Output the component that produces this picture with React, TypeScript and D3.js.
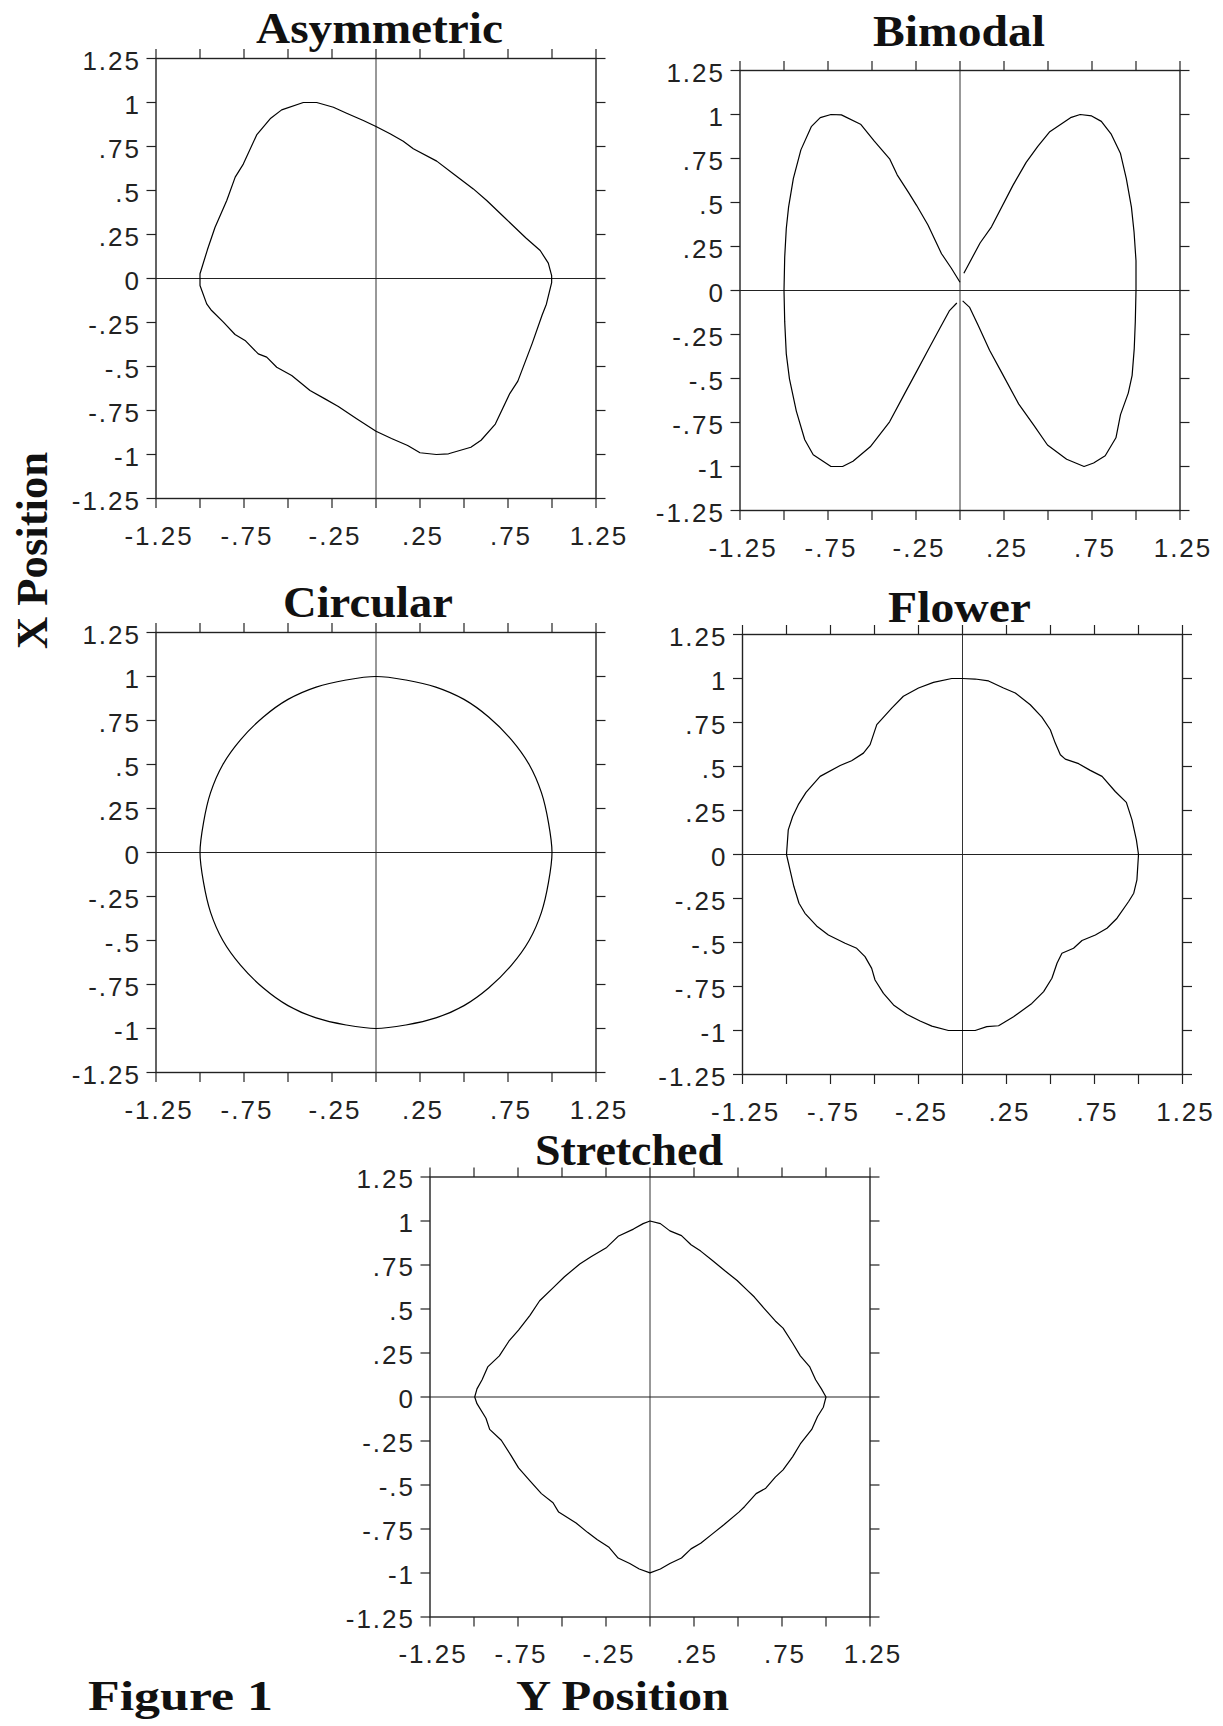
import React from 'react';
import * as d3 from 'd3';

// ---------- data ----------
// Horizontal axis = "Y Position", vertical axis = "X Position"
const tickValues = [-1.25, -1, -0.75, -0.5, -0.25, 0, 0.25, 0.5, 0.75, 1, 1.25];
const yTickLabels = ['-1.25', '-1', '-.75', '-.5', '-.25', '0', '.25', '.5', '.75', '1', '1.25'];
const xLabelValues = [-1.25, -0.75, -0.25, 0.25, 0.75, 1.25];
const xTickLabels = ['-1.25', '-.75', '-.25', '.25', '.75', '1.25'];

const panelTitles = ['Asymmetric', 'Bimodal', 'Circular', 'Flower', 'Stretched'];

const asymH = [-1.0, -0.958, -0.915, -0.848, -0.8, -0.754, -0.678, -0.598, -0.536, -0.413, -0.337, -0.242, -0.167, -0.072, 0, 0.08, 0.155, 0.212, 0.345, 0.439, 0.553, 0.629, 0.736, 0.852, 0.933, 0.979, 0.998, 0.998, 0.968, 0.944, 0.887, 0.806, 0.76, 0.678, 0.597, 0.539, 0.412, 0.343, 0.25, 0.18, 0.088, 0, -0.11, -0.214, -0.29, -0.375, -0.432, -0.479, -0.564, -0.621, -0.669, -0.744, -0.801, -0.867, -0.934, -0.962, -1.0];
const asymV = [0.027, 0.163, 0.29, 0.443, 0.576, 0.65, 0.816, 0.911, 0.958, 1.0, 1.0, 0.973, 0.939, 0.898, 0.864, 0.822, 0.78, 0.737, 0.667, 0.595, 0.509, 0.443, 0.341, 0.23, 0.159, 0.087, 0.016, -0.024, -0.146, -0.207, -0.37, -0.583, -0.654, -0.827, -0.919, -0.959, -0.996, -1.0, -0.99, -0.949, -0.909, -0.868, -0.797, -0.727, -0.684, -0.636, -0.589, -0.551, -0.504, -0.447, -0.428, -0.352, -0.318, -0.248, -0.182, -0.144, -0.04];

const bimLeftH = [0, -0.05, -0.105, -0.182, -0.247, -0.291, -0.357, -0.4, -0.488, -0.565, -0.674, -0.733, -0.794, -0.845, -0.904, -0.947, -0.974, -0.987, -0.996, -1.0, -0.996, -0.987, -0.969, -0.93, -0.882, -0.834, -0.733, -0.667, -0.608, -0.51, -0.4, -0.313, -0.247, -0.182, -0.116, -0.061, -0.018];
const bimLeftV = [0.047, 0.128, 0.209, 0.372, 0.484, 0.555, 0.657, 0.748, 0.85, 0.945, 0.998, 1.0, 0.982, 0.931, 0.799, 0.636, 0.474, 0.352, 0.189, 0, -0.177, -0.36, -0.502, -0.685, -0.848, -0.933, -1.0, -1.0, -0.97, -0.888, -0.746, -0.583, -0.461, -0.339, -0.217, -0.116, -0.071];
const bimRightH = [0.022, 0.114, 0.179, 0.3, 0.376, 0.442, 0.508, 0.628, 0.683, 0.748, 0.803, 0.858, 0.912, 0.945, 0.974, 0.989, 1.0, 1.0, 0.996, 0.99, 0.978, 0.956, 0.912, 0.886, 0.825, 0.759, 0.705, 0.606, 0.497, 0.42, 0.333, 0.234, 0.168, 0.103, 0.055, 0.015];
const bimRightV = [0.098, 0.27, 0.362, 0.596, 0.728, 0.819, 0.9, 0.982, 1.0, 0.992, 0.961, 0.89, 0.778, 0.636, 0.474, 0.331, 0.169, 0, -0.177, -0.33, -0.482, -0.583, -0.705, -0.837, -0.939, -0.98, -1.0, -0.959, -0.878, -0.766, -0.644, -0.461, -0.339, -0.197, -0.096, -0.059];

const circH = [0, 0.17, 0.34, 0.5, 0.64, 0.77, 0.87, 0.94, 0.98, 1, 0.98, 0.94, 0.87, 0.77, 0.64, 0.5, 0.34, 0.17, 0, -0.17, -0.34, -0.5, -0.64, -0.77, -0.87, -0.94, -0.98, -1, -0.98, -0.94, -0.87, -0.77, -0.64, -0.5, -0.34, -0.17];
const circV = [1, 0.98, 0.94, 0.87, 0.77, 0.64, 0.5, 0.34, 0.17, 0, -0.17, -0.34, -0.5, -0.64, -0.77, -0.87, -0.94, -0.98, -1, -0.98, -0.94, -0.87, -0.77, -0.64, -0.5, -0.34, -0.17, 0, 0.17, 0.34, 0.5, 0.64, 0.77, 0.87, 0.94, 0.98];

const flowerH = [0, 0.072, 0.148, 0.233, 0.3, 0.385, 0.451, 0.499, 0.527, 0.556, 0.584, 0.66, 0.726, 0.793, 0.868, 0.931, 0.963, 0.988, 1.0, 0.991, 0.973, 0.944, 0.878, 0.821, 0.755, 0.679, 0.631, 0.565, 0.537, 0.508, 0.461, 0.394, 0.29, 0.205, 0.138, 0.072, 0, -0.08, -0.174, -0.241, -0.317, -0.392, -0.449, -0.497, -0.516, -0.554, -0.601, -0.667, -0.762, -0.829, -0.895, -0.929, -0.958, -0.98, -1.0, -0.99, -0.965, -0.933, -0.889, -0.809, -0.695, -0.63, -0.563, -0.525, -0.487, -0.402, -0.336, -0.25, -0.165, -0.061];
const flowerV = [1.0, 0.997, 0.986, 0.946, 0.918, 0.851, 0.781, 0.709, 0.633, 0.567, 0.542, 0.516, 0.478, 0.444, 0.358, 0.296, 0.197, 0.083, 0, -0.144, -0.22, -0.267, -0.362, -0.419, -0.457, -0.489, -0.533, -0.561, -0.618, -0.703, -0.779, -0.846, -0.922, -0.973, -0.978, -1.0, -1.0, -1.0, -0.975, -0.946, -0.908, -0.855, -0.789, -0.713, -0.647, -0.58, -0.533, -0.504, -0.457, -0.406, -0.334, -0.277, -0.182, -0.087, 0, 0.14, 0.216, 0.283, 0.353, 0.444, 0.506, 0.533, 0.576, 0.624, 0.738, 0.832, 0.899, 0.946, 0.978, 1.0];

const strH = [0, 0.059, 0.113, 0.179, 0.233, 0.288, 0.353, 0.429, 0.495, 0.549, 0.593, 0.647, 0.712, 0.756, 0.81, 0.854, 0.908, 0.941, 0.974, 1.0, 0.985, 0.952, 0.919, 0.854, 0.81, 0.756, 0.712, 0.658, 0.603, 0.538, 0.505, 0.418, 0.353, 0.288, 0.233, 0.179, 0.113, 0.059, 0, -0.061, -0.115, -0.181, -0.235, -0.301, -0.355, -0.42, -0.519, -0.551, -0.617, -0.682, -0.747, -0.791, -0.845, -0.911, -0.932, -0.983, -0.996, -0.983, -0.954, -0.922, -0.856, -0.802, -0.747, -0.682, -0.627, -0.551, -0.486, -0.399, -0.333, -0.246, -0.181, -0.094, -0.039];
const strV = [1.0, 0.985, 0.944, 0.917, 0.865, 0.829, 0.777, 0.714, 0.662, 0.61, 0.568, 0.505, 0.432, 0.391, 0.307, 0.234, 0.171, 0.098, 0.046, 0, -0.058, -0.111, -0.184, -0.267, -0.34, -0.414, -0.455, -0.518, -0.549, -0.622, -0.654, -0.727, -0.779, -0.831, -0.863, -0.915, -0.946, -0.977, -0.999, -0.977, -0.946, -0.915, -0.852, -0.81, -0.769, -0.716, -0.654, -0.601, -0.549, -0.476, -0.403, -0.33, -0.246, -0.184, -0.121, -0.038, 0, 0.046, 0.098, 0.171, 0.234, 0.317, 0.38, 0.464, 0.547, 0.62, 0.683, 0.756, 0.798, 0.85, 0.913, 0.954, 0.985];

// ---------- layout ----------
const SIZE = 440;
const TICK = 9.5;
const layout = [
  { left: 156, top: 58.5, titleX: 256, titleLen: 247, titleY: 43 },
  { left: 740, top: 70.5, titleX: 873, titleLen: 172, titleY: 46 },
  { left: 156, top: 632.5, titleX: 283, titleLen: 170, titleY: 617 },
  { left: 742.5, top: 634.5, titleX: 888, titleLen: 143, titleY: 622 },
  { left: 430, top: 1177, titleX: 535, titleLen: 188, titleY: 1165 },
];

type Series = { h: number[]; v: number[]; closed: boolean; smooth?: boolean };
const panelSeries: Series[][] = [
  [{ h: asymH, v: asymV, closed: true }],
  [
    { h: bimLeftH, v: bimLeftV, closed: false },
    { h: bimRightH, v: bimRightV, closed: false },
  ],
  [{ h: circH, v: circV, closed: true, smooth: true }],
  [{ h: flowerH, v: flowerV, closed: true }],
  [{ h: strH, v: strV, closed: true }],
];

const serifFont = '"Liberation Serif", "Times New Roman", serif';
const sansFont = '"Liberation Sans", Arial, sans-serif';
const LABEL_SIZE = 26;
const LABEL_SPACING = 2;

function Panel({ idx }: { idx: number }) {
  const L = layout[idx];
  const x = d3.scaleLinear().domain([-1.25, 1.25]).range([0, SIZE]);
  const y = d3.scaleLinear().domain([-1.25, 1.25]).range([SIZE, 0]);
  const series = panelSeries[idx];
  return (
    <g>
      <text
        x={L.titleX}
        y={L.titleY}
        fontFamily={serifFont}
        fontWeight="bold"
        fontSize={44}
        textLength={L.titleLen}
        lengthAdjust="spacingAndGlyphs"
        fill="#111"
      >
        {panelTitles[idx]}
      </text>
      <g transform={`translate(${L.left},${L.top})`}>
        {/* centre lines */}
        <line x1={x(0)} x2={x(0)} y1={0} y2={SIZE} stroke="#333" strokeWidth={1} />
        <line x1={0} x2={SIZE} y1={y(0)} y2={y(0)} stroke="#222" strokeWidth={1.1} />
        {/* frame */}
        <rect x={0} y={0} width={SIZE} height={SIZE} fill="none" stroke="#222" strokeWidth={1.4} />
        {/* ticks */}
        {tickValues.map((t, i) => (
          <g key={'t' + i} stroke="#222" strokeWidth={1.2}>
            <line x1={-TICK} x2={0} y1={y(t)} y2={y(t)} />
            <line x1={SIZE} x2={SIZE + TICK} y1={y(t)} y2={y(t)} />
            <line x1={x(t)} x2={x(t)} y1={-TICK} y2={0} />
            <line x1={x(t)} x2={x(t)} y1={SIZE} y2={SIZE + TICK} />
          </g>
        ))}
        {/* y labels */}
        {tickValues.map((t, i) => (
          <text
            key={'yl' + i}
            x={-15}
            y={y(t) + 11}
            textAnchor="end"
            fontFamily={sansFont}
            fontSize={LABEL_SIZE}
            letterSpacing={LABEL_SPACING}
            fill="#222"
          >
            {yTickLabels[i]}
          </text>
        ))}
        {/* x labels */}
        {xLabelValues.map((t, i) => (
          <text
            key={'xl' + i}
            x={x(t) + 3}
            y={SIZE + 46}
            textAnchor="middle"
            fontFamily={sansFont}
            fontSize={LABEL_SIZE}
            letterSpacing={LABEL_SPACING}
            fill="#222"
          >
            {xTickLabels[i]}
          </text>
        ))}
        {/* curves */}
        {series.map((s, k) => {
          const gen = d3
            .line<number>()
            .x((_, i) => x(s.h[i]))
            .y((_, i) => y(s.v[i]))
            .curve(
              s.closed
                ? s.smooth
                  ? d3.curveCatmullRomClosed
                  : d3.curveLinearClosed
                : d3.curveLinear
            );
          return (
            <path
              key={'c' + k}
              d={gen(s.h) || ''}
              fill="none"
              stroke="#000"
              strokeWidth={1.2}
              strokeLinejoin="round"
            />
          );
        })}
      </g>
    </g>
  );
}

export default function App() {
  return (
    <svg
      width={1223}
      height={1726}
      style={{ position: 'absolute', left: 0, top: 0, background: '#fff' }}
    >
      <rect x={0} y={0} width={1223} height={1726} fill="#fff" />
      {panelTitles.map((_, i) => (
        <Panel key={i} idx={i} />
      ))}
      <g transform="translate(47,649) rotate(-90)">
        <text
          x={0}
          y={0}
          fontFamily={serifFont}
          fontWeight="bold"
          fontSize={45}
          textLength={197}
          lengthAdjust="spacingAndGlyphs"
          fill="#111"
        >
          X Position
        </text>
      </g>
      <text
        x={88}
        y={1710}
        fontFamily={serifFont}
        fontWeight="bold"
        fontSize={43}
        textLength={185}
        lengthAdjust="spacingAndGlyphs"
        fill="#111"
      >
        Figure 1
      </text>
      <text
        x={516}
        y={1710}
        fontFamily={serifFont}
        fontWeight="bold"
        fontSize={43}
        textLength={213}
        lengthAdjust="spacingAndGlyphs"
        fill="#111"
      >
        Y Position
      </text>
    </svg>
  );
}
